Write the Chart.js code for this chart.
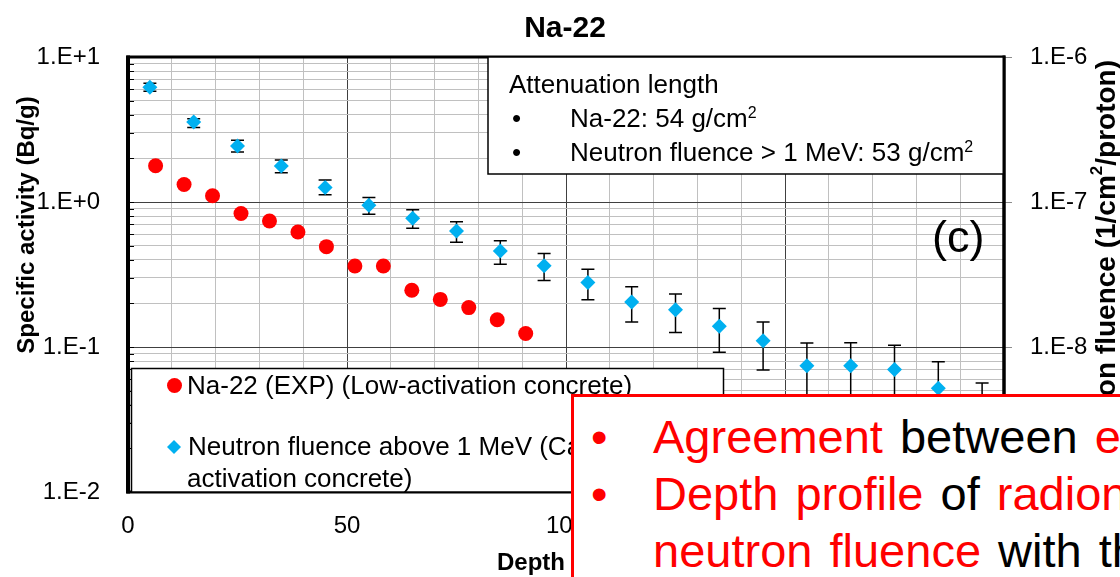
<!DOCTYPE html>
<html>
<head>
<meta charset="utf-8">
<script src="https://cdn.jsdelivr.net/npm/chart.js@4.4.1/dist/chart.umd.min.js"></script>
<style>
    body { margin: 0; background: #fff; }
    #wrap { position: relative; width: 1120px; height: 577px; overflow: hidden; font-family: "Liberation Sans", Arial, sans-serif; }
    #wrap canvas { position: absolute; left: 0; top: 0; }
    #note { position: absolute; left: 571px; top: 394px; width: 640px; height: 260px; border: 3.5px solid #ff0000; background: #fff; box-sizing: border-box; }
    .ln { position: absolute; font-size: 47px; line-height: 57px; white-space: nowrap; color: #000; word-spacing: 4px; }
    .r { color: #ff0000; }
</style>
</head>
<body>
<div id="wrap">
    <canvas id="chart" width="1120" height="577"></canvas>
    <div id="note"></div>
    <div class="ln r" style="left:591px;top:408px;">•</div>
    <div class="ln" style="left:653px;top:408px;"><span class="r">Agreement</span> between <span class="r">experiment</span></div>
    <div class="ln r" style="left:591px;top:465px;">•</div>
    <div class="ln" style="left:653px;top:465px;"><span class="r">Depth profile</span> of <span class="r">radionuclides</span></div>
    <div class="ln" style="left:653px;top:522px;"><span class="r">neutron fluence</span> with the</div>
</div>

<script>
// Na-22 depth profile (left axis) and neutron fluence > 1 MeV (right axis)

// ── Data ────────────────────────────────────────────────
const naDepth = [6.3, 12.8, 19.3, 25.8, 32.3, 38.8, 45.3, 51.8, 58.3, 64.8, 71.3, 77.8, 84.3, 90.8];
const naActivity = [1.78, 1.32, 1.105, 0.833, 0.74, 0.621, 0.492, 0.362, 0.362, 0.246, 0.213, 0.187, 0.154, 0.124];

const neutDepth = [5, 15, 25, 35, 45, 55, 65, 75, 85, 95, 105, 115, 125, 135, 145, 155, 165, 175, 185, 195];
const neutFluence = [6.18e-7, 3.56e-7, 2.43e-7, 1.77e-7, 1.26e-7, 9.5e-8, 7.72e-8, 6.3e-8, 4.59e-8, 3.64e-8,
                     2.79e-8, 2.04e-8, 1.81e-8, 1.39e-8, 1.106e-8, 7.43e-9, 7.43e-9, 7.0e-9, 5.19e-9, 3.8e-9];
const neutUpper = [6.6e-7, 3.75e-7, 2.67e-7, 1.95e-7, 1.42e-7, 1.076e-7, 8.85e-8, 7.31e-8, 5.41e-8, 4.42e-8,
                   3.44e-8, 2.6e-8, 2.32e-8, 1.84e-8, 1.49e-8, 1.066e-8, 1.07e-8, 1.03e-8, 7.9e-9, 5.65e-9];
const neutLower = [5.8e-7, 3.27e-7, 2.21e-7, 1.59e-7, 1.12e-7, 8.22e-8, 6.59e-8, 5.27e-8, 3.72e-8, 2.88e-8,
                   2.12e-8, 1.49e-8, 1.26e-8, 9.2e-9, 6.95e-9, 3.9e-9, 3.9e-9, 3.6e-9, 2.6e-9, 1.9e-9];

const leftDecades = [0.01, 0.1, 1, 10];
const rightDecades = [1e-9, 1e-8, 1e-7, 1e-6];
const xMajorStep = 50;

const RED = '#ff0000';
const BLUE = '#00b0f0';
const FONT = '"Liberation Sans", Arial, sans-serif';

const isDecade = v => Math.abs(Math.log10(v) - Math.round(Math.log10(v))) < 1e-6;
const fmtExp = v => {
    const e = Math.round(Math.log10(v));
    return '1.E' + (e >= 0 ? '+' : '') + e;
};

// all 1..9 x 10^n gridline values between the first and last decade
function logGrid(decades) {
    const out = [];
    for (let i = 0; i < decades.length - 1; i++) {
        for (let m = 1; m < 10; m++) out.push({ value: m * decades[i] });
    }
    out.push({ value: decades[decades.length - 1] });
    return out;
}

// draw a run of text pieces, each {t, font, dy}
function drawRuns(ctx, runs, x, y) {
    let cx = x;
    runs.forEach(r => {
        ctx.font = r.font;
        ctx.fillText(r.t, cx, y + (r.dy || 0));
        cx += ctx.measureText(r.t).width;
    });
    return cx;
}
function runsWidth(ctx, runs) {
    let w = 0;
    runs.forEach(r => { ctx.font = r.font; w += ctx.measureText(r.t).width; });
    return w;
}

// ── Error bars (drawn under the diamonds) ─────────────────
const errorBars = {
    id: 'errorBars',
    beforeDatasetsDraw(chart) {
        const { ctx, scales } = chart;
        ctx.save();
        ctx.strokeStyle = '#000';
        ctx.lineWidth = 1.5;
        neutDepth.forEach((d, i) => {
            const x = scales.x.getPixelForValue(d);
            const yHi = scales.y2.getPixelForValue(neutUpper[i]);
            const yLo = scales.y2.getPixelForValue(neutLower[i]);
            ctx.beginPath();
            ctx.moveTo(x, yHi); ctx.lineTo(x, yLo);
            ctx.moveTo(x - 6.5, yHi); ctx.lineTo(x + 6.5, yHi);
            ctx.moveTo(x - 6.5, yLo); ctx.lineTo(x + 6.5, yLo);
            ctx.stroke();
        });
        ctx.restore();
    }
};

// ── Frame, titles, text boxes, legend ─────────────────────
const decorations = {
    id: 'decorations',
    afterDraw(chart) {
        const { ctx, chartArea: a, scales } = chart;
        ctx.save();
        ctx.fillStyle = '#000';
        ctx.textBaseline = 'alphabetic';

        // inner minor ticks on the left axis
        ctx.strokeStyle = '#000';
        ctx.lineWidth = 1;
        scales.y.ticks.forEach(t => {
            const y = Math.round(scales.y.getPixelForValue(t.value)) + 0.5;
            ctx.beginPath(); ctx.moveTo(a.left, y); ctx.lineTo(a.left + 6, y); ctx.stroke();
        });

        // plot frame
        ctx.lineWidth = 3;
        ctx.strokeRect(a.left, a.top, a.right - a.left, a.bottom - a.top);
        ctx.lineWidth = 4;
        ctx.beginPath(); ctx.moveTo(a.left, a.top - 1.5); ctx.lineTo(a.left, a.bottom + 1.5); ctx.stroke();

        // chart title
        ctx.textAlign = 'center';
        ctx.font = 'bold 30px ' + FONT;
        ctx.fillText('Na-22', 565, 37);

        // left axis title
        ctx.save();
        ctx.translate(27, 225);
        ctx.rotate(-Math.PI / 2);
        ctx.textBaseline = 'middle';
        ctx.font = 'bold 24px ' + FONT;
        ctx.fillText('Specific activity (Bq/g)', 0, 0);
        ctx.restore();

        // right axis title, its end near the top of the plot
        const rRuns = [
            { t: 'Neutron fluence (1/cm', font: 'bold 28px ' + FONT },
            { t: '2', font: 'bold 17px ' + FONT, dy: -10 },
            { t: '/proton)', font: 'bold 28px ' + FONT }
        ];
        const rw = runsWidth(ctx, rRuns);
        ctx.save();
        ctx.translate(1107, 60 + rw / 2);
        ctx.rotate(-Math.PI / 2);
        ctx.textAlign = 'left';
        ctx.textBaseline = 'middle';
        drawRuns(ctx, rRuns, -rw / 2, 0);
        ctx.restore();

        // x axis title
        ctx.textAlign = 'left';
        drawRuns(ctx, [
            { t: 'Depth (g/cm', font: 'bold 24px ' + FONT },
            { t: '2', font: 'bold 15px ' + FONT, dy: -9 },
            { t: ')', font: 'bold 24px ' + FONT }
        ], 497, 570);

        // attenuation length box
        ctx.fillStyle = '#fff';
        ctx.fillRect(488, a.top, a.right - 488, 117);
        ctx.strokeStyle = '#000';
        ctx.lineWidth = 1.5;
        ctx.strokeRect(488, a.top, a.right - 488, 117);
        ctx.fillStyle = '#000';
        ctx.font = '26px ' + FONT;
        ctx.fillText('Attenuation length', 509, 93);
        ctx.fillText('•', 512, 127);
        ctx.fillText('•', 512, 161);
        const sup = { font: '16px ' + FONT, dy: -9 };
        drawRuns(ctx, [{ t: 'Na-22: 54 g/cm', font: '26px ' + FONT }, { t: '2', ...sup }], 570, 127);
        drawRuns(ctx, [{ t: 'Neutron fluence > 1 MeV: 53 g/cm', font: '26px ' + FONT }, { t: '2', ...sup }], 570, 161);

        // re-stroke the right frame edge over the box
        ctx.lineWidth = 3;
        ctx.beginPath(); ctx.moveTo(a.right, a.top - 1.5); ctx.lineTo(a.right, a.bottom + 1.5); ctx.stroke();

        // panel label
        ctx.font = '45px ' + FONT;
        ctx.fillText('(c)', 932, 252);

        // legend box
        ctx.fillStyle = '#fff';
        ctx.fillRect(131.5, 368.5, 592, a.bottom - 368.5);
        ctx.lineWidth = 1.5;
        ctx.strokeRect(131.5, 368.5, 592, a.bottom - 368.5);
        const ds = chart.data.datasets;
        ctx.fillStyle = ds[0].backgroundColor;
        ctx.beginPath(); ctx.arc(174.5, 385.5, 7.5, 0, Math.PI * 2); ctx.fill();
        ctx.fillStyle = ds[1].backgroundColor;
        ctx.beginPath();
        ctx.moveTo(174, 440); ctx.lineTo(181, 447); ctx.lineTo(174, 454); ctx.lineTo(167, 447);
        ctx.closePath(); ctx.fill();
        ctx.fillStyle = '#000';
        ctx.font = '26px ' + FONT;
        ctx.fillText(ds[0].label, 187, 394);
        ctx.fillText('Neutron fluence above 1 MeV (Calc.) (Low-', 188, 455);
        ctx.fillText('activation concrete)', 187, 487);

        ctx.restore();
    }
};

// ── Chart ────────────────────────────────────────────────
new Chart(document.getElementById('chart').getContext('2d'), {
    type: 'scatter',
    data: {
        datasets: [{
            label: 'Na-22 (EXP) (Low-activation concrete)',
            data: naDepth.map((d, i) => ({ x: d, y: naActivity[i] })),
            yAxisID: 'y',
            pointStyle: 'circle', pointRadius: 7.5,
            backgroundColor: RED, borderWidth: 0
        }, {
            label: 'Neutron fluence above 1 MeV (Calc.) (Low-activation concrete)',
            data: neutDepth.map((d, i) => ({ x: d, y: neutFluence[i] })),
            yAxisID: 'y2',
            pointStyle: 'rectRot', pointRadius: 7.5,
            backgroundColor: BLUE, borderWidth: 0
        }]
    },
    options: {
        responsive: false, animation: false, events: [],
        devicePixelRatio: 1,
        layout: { padding: { top: 57, left: 0, right: 0, bottom: 0 } },
        plugins: { legend: { display: false }, title: { display: false }, tooltip: { enabled: false } },
        scales: {
            x: {
                type: 'linear', position: 'bottom', min: 0, max: 200,
                border: { display: false },
                grid: {
                    drawTicks: false, lineWidth: 1,
                    color: c => (c.tick && c.tick.value % xMajorStep === 0) ? '#404040' : '#c0c0c0'
                },
                ticks: {
                    stepSize: 10, autoSkip: false, maxRotation: 0, padding: 20,
                    color: '#000', font: { family: FONT, size: 24 },
                    callback: v => (v % xMajorStep === 0 ? String(v) : '')
                },
                afterFit: s => { s.height = 85; }
            },
            y: {
                type: 'logarithmic', position: 'left',
                min: leftDecades[0], max: leftDecades[leftDecades.length - 1],
                border: { display: false },
                afterBuildTicks: s => { s.ticks = logGrid(leftDecades); },
                grid: {
                    drawTicks: false, lineWidth: 1,
                    color: c => (c.tick && isDecade(c.tick.value)) ? '#404040' : '#c0c0c0'
                },
                ticks: {
                    autoSkip: false, padding: 28,
                    color: '#000', font: { family: FONT, size: 24 },
                    callback: v => (isDecade(v) ? fmtExp(v) : '')
                },
                afterFit: s => { s.width = 128; }
            },
            y2: {
                type: 'logarithmic', position: 'right',
                min: rightDecades[0], max: rightDecades[rightDecades.length - 1],
                border: { display: false },
                afterBuildTicks: s => { s.ticks = rightDecades.map(v => ({ value: v })); },
                grid: { drawOnChartArea: false, drawTicks: true, tickLength: 8, color: '#8c8c8c', lineWidth: 1 },
                ticks: {
                    autoSkip: false, padding: 18,
                    color: '#000', font: { family: FONT, size: 24 },
                    callback: v => fmtExp(v)
                },
                afterFit: s => { s.width = 116; }
            }
        }
    },
    plugins: [errorBars, decorations]
});
</script>
</body>
</html>
